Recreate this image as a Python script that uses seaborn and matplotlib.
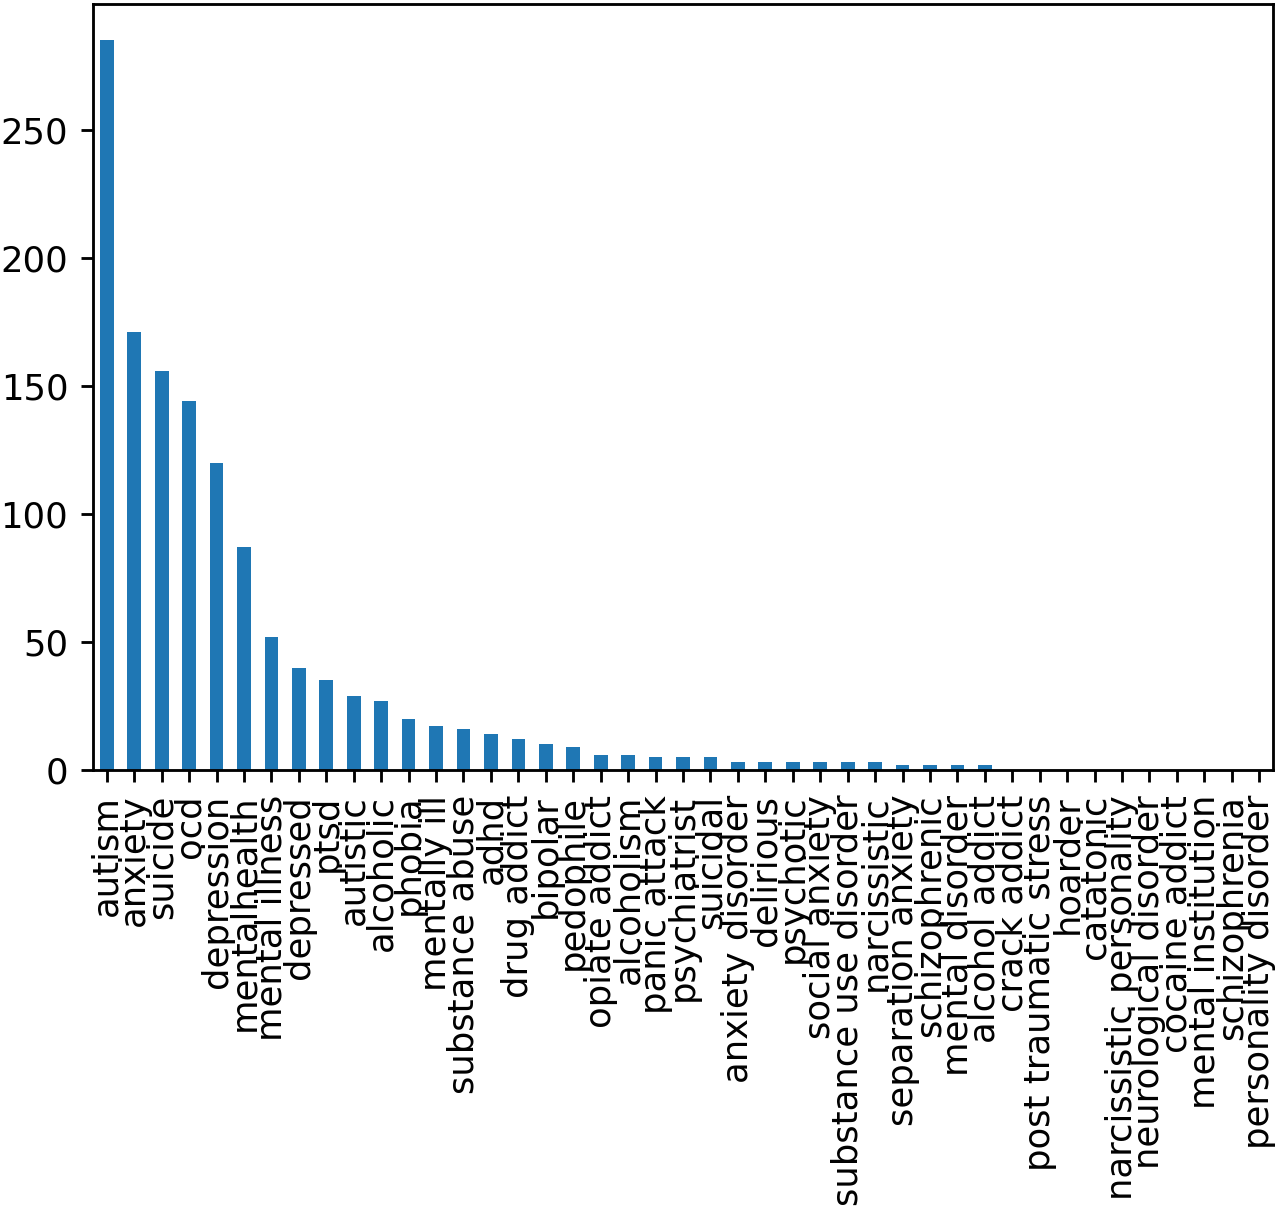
import matplotlib
matplotlib.use('Agg')
import matplotlib.pyplot as plt
import seaborn as sns
import pandas as pd

terms = [
    'autism', 'anxiety', 'suicide', 'ocd', 'depression', 'mentalhealth',
    'mental illness', 'depressed', 'ptsd', 'autistic', 'alcoholic', 'phobia',
    'mentally ill', 'substance abuse', 'adhd', 'drug addict', 'bipolar',
    'pedophile', 'opiate addict', 'alcoholism', 'panic attack', 'psychiatrist',
    'suicidal', 'anxiety disorder', 'delirious', 'psychotic', 'social anxiety',
    'substance use disorder', 'narcissistic', 'separation anxiety',
    'schizophrenic', 'mental disorder', 'alcohol addict', 'crack addict',
    'post traumatic stress', 'hoarder', 'catatonic', 'narcissistic personality',
    'neurological disorder', 'cocaine addict', 'mental institution',
    'schizophrenia', 'personality disorder',
]
counts = [
    285, 171, 156, 144, 120, 87,
    52, 40, 35, 29, 27, 20,
    17, 16, 14, 12, 10,
    9, 6, 6, 5, 5,
    5, 3, 3, 3, 3,
    3, 3, 2,
    2, 2, 2, 0,
    0, 0, 0, 0,
    0, 0, 0,
    0, 0,
]

df = pd.DataFrame({'term': terms, 'count': counts})

# original was a small pandas plot scaled up, so use a high dpi
fig, ax = plt.subplots(figsize=(1280 / 255, 1213 / 255), dpi=255)
fig.subplots_adjust(left=0.0727, right=0.9945, top=0.9967, bottom=0.3652)

sns.barplot(
    df, x='term', y='count', ax=ax, color='#1f77b4',
    width=0.5, saturation=1, errorbar=None,
)
ax.set_xlim(-0.5, len(terms) - 0.5)
ax.set_ylim(0, max(counts) * 1.05)
ax.set_xlabel('')
ax.set_ylabel('')
ax.tick_params(axis='x', rotation=90)

plt.savefig('out.png', dpi=255)
plt.close()
